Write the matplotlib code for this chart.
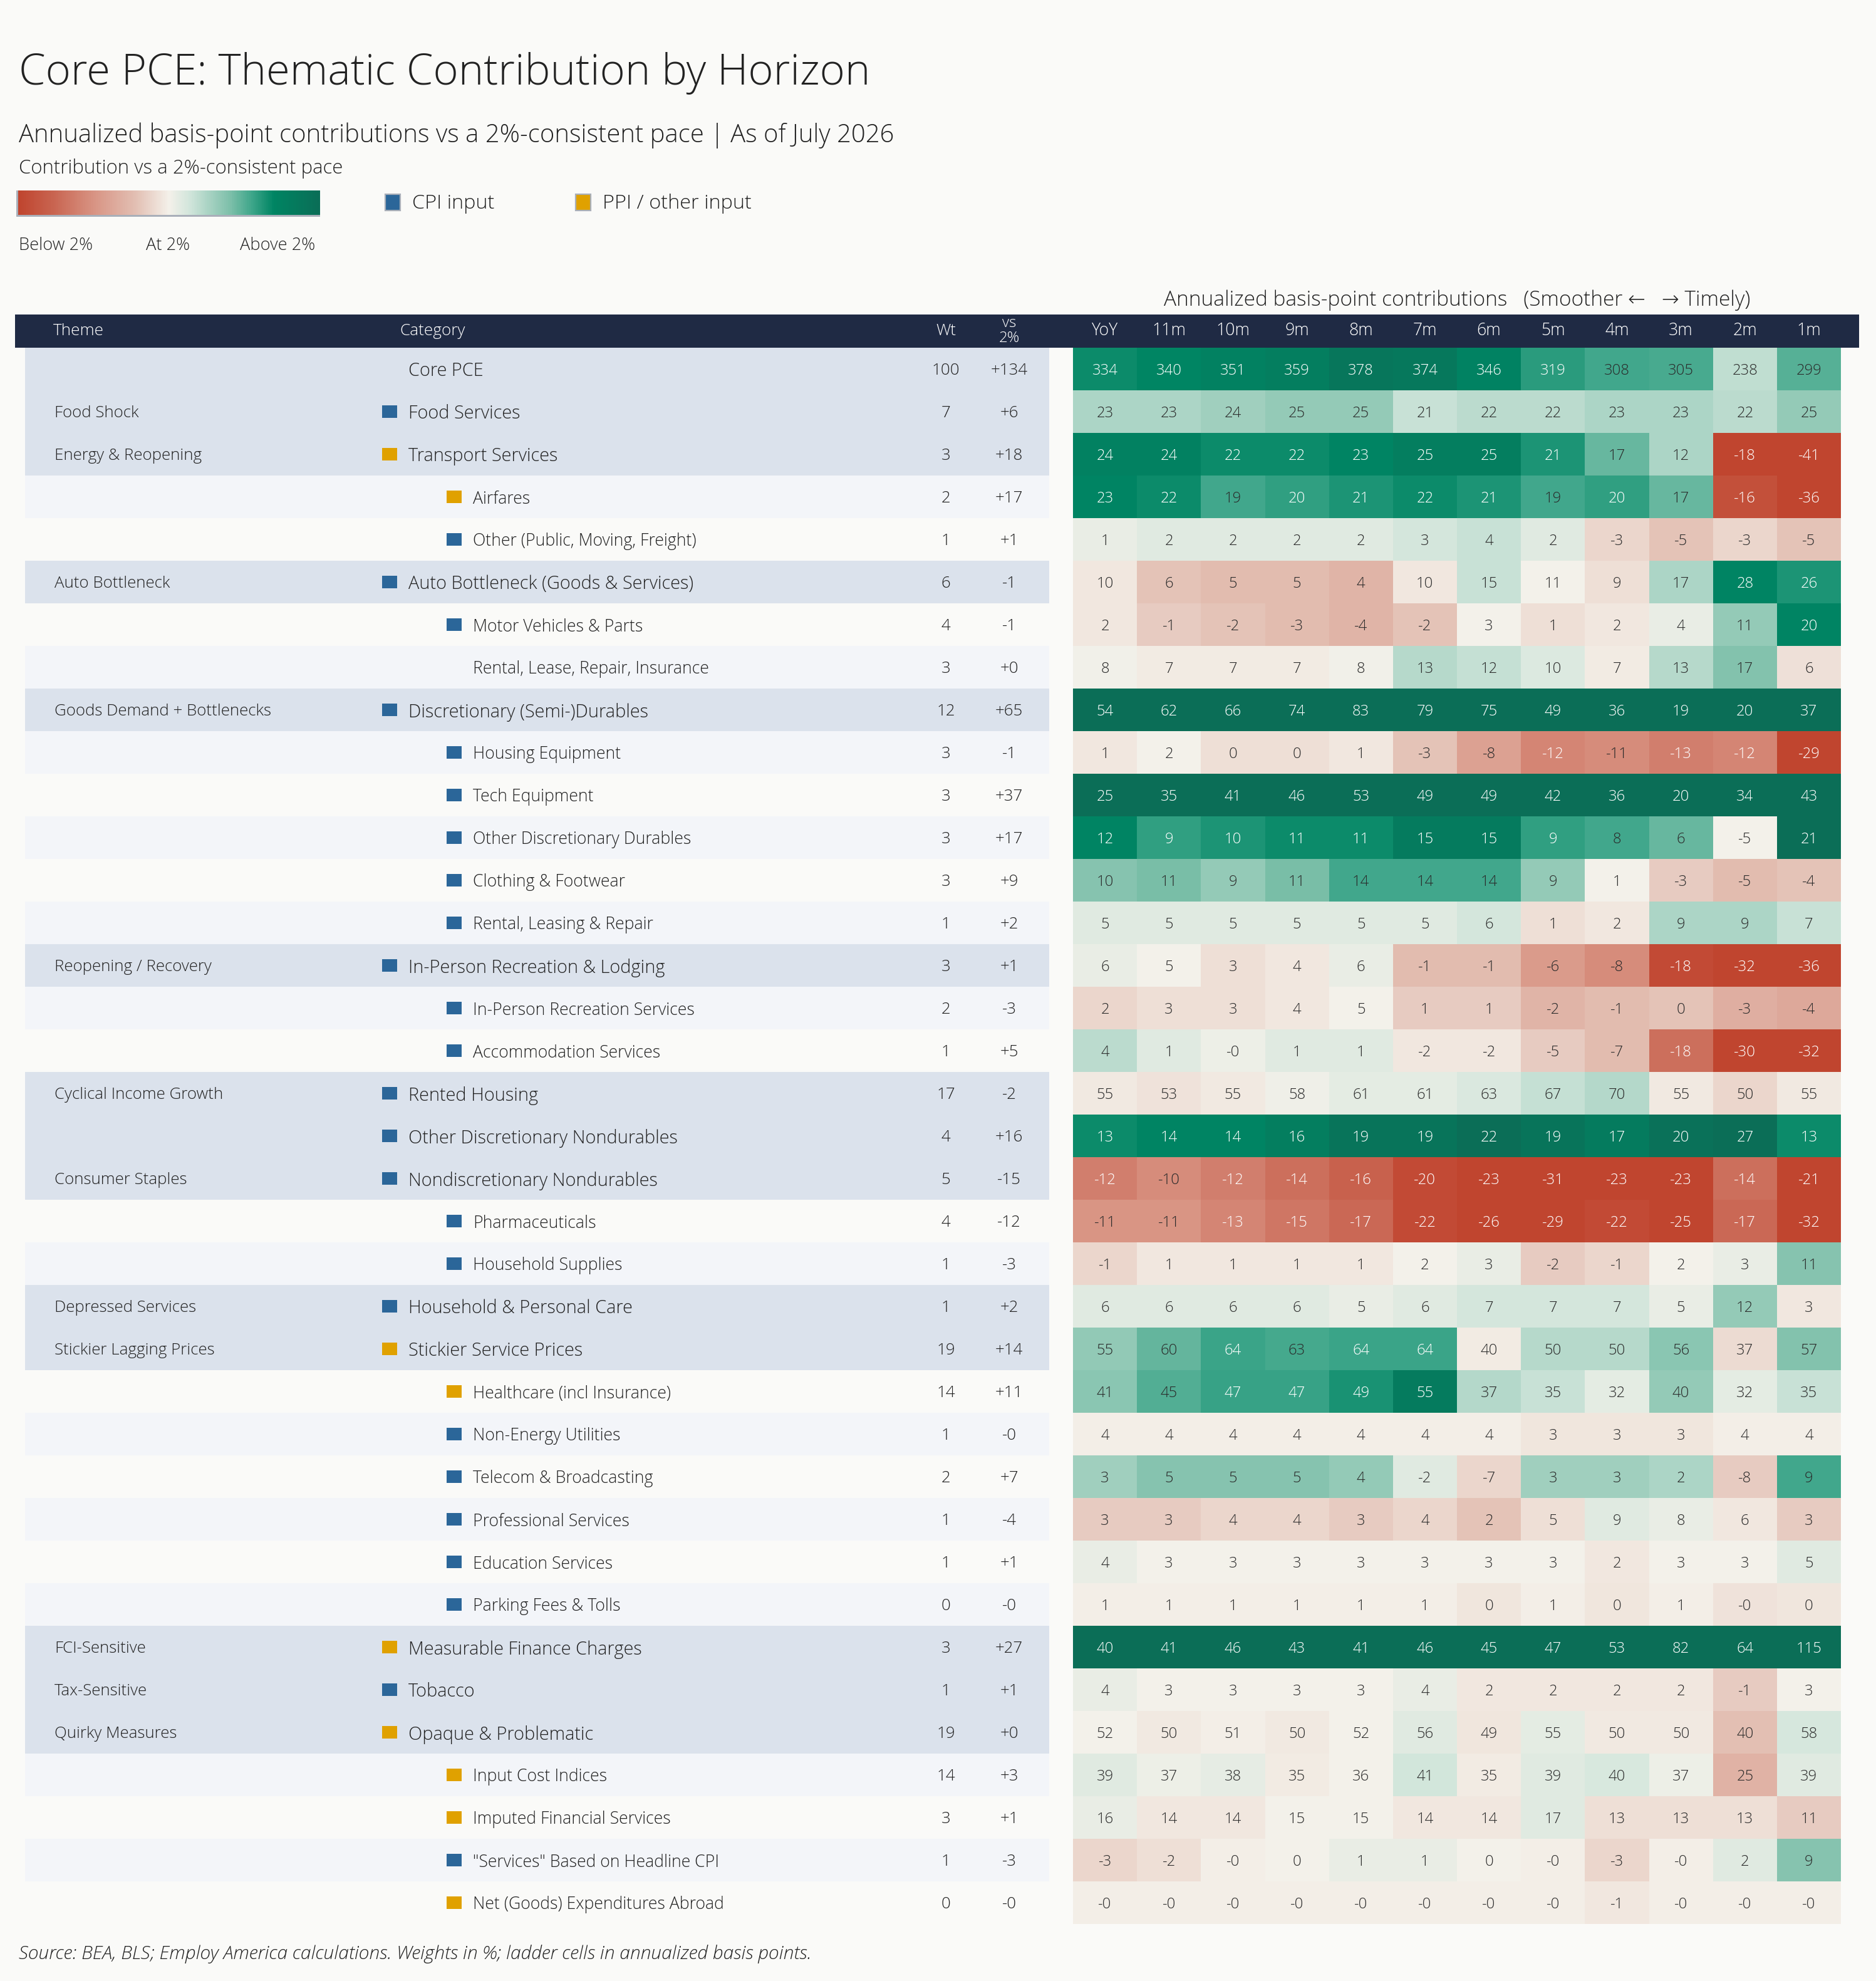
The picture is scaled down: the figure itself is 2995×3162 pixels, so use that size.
import numpy as np
import matplotlib
matplotlib.use("Agg")
import matplotlib.pyplot as plt
from matplotlib.colors import LinearSegmentedColormap
from matplotlib.patches import Rectangle

# ---------------- data ----------------
themes = ["", "Food Shock", "Energy & Reopening", "", "", "Auto Bottleneck", "", "",
          "Goods Demand + Bottlenecks", "", "", "", "", "", "Reopening / Recovery", "", "",
          "Cyclical Income Growth", "", "Consumer Staples", "", "", "Depressed Services",
          "Stickier Lagging Prices", "", "", "", "", "", "", "FCI-Sensitive", "Tax-Sensitive",
          "Quirky Measures", "", "", "", ""]

categories = ["Core PCE", "Food Services", "Transport Services", "Airfares",
              "Other (Public, Moving, Freight)", "Auto Bottleneck (Goods & Services)",
              "Motor Vehicles & Parts", "Rental, Lease, Repair, Insurance",
              "Discretionary (Semi-)Durables", "Housing Equipment", "Tech Equipment",
              "Other Discretionary Durables", "Clothing & Footwear", "Rental, Leasing & Repair",
              "In-Person Recreation & Lodging", "In-Person Recreation Services",
              "Accommodation Services", "Rented Housing", "Other Discretionary Nondurables",
              "Nondiscretionary Nondurables", "Pharmaceuticals", "Household Supplies",
              "Household & Personal Care", "Stickier Service Prices", "Healthcare (incl Insurance)",
              "Non-Energy Utilities", "Telecom & Broadcasting", "Professional Services",
              "Education Services", "Parking Fees & Tolls", "Measurable Finance Charges",
              "Tobacco", "Opaque & Problematic", "Input Cost Indices",
              "Imputed Financial Services", "\"Services\" Based on Headline CPI",
              "Net (Goods) Expenditures Abroad"]

# 0 = headline / parent row, 1 = sub-component
levels = [0, 0, 0, 1, 1, 0, 1, 1, 0, 1, 1, 1, 1, 1, 0, 1, 1, 0, 0, 0, 1, 1, 0, 0, 1, 1, 1, 1,
          1, 1, 0, 0, 0, 1, 1, 1, 1]

sources = ["", "CPI", "PPI", "PPI", "CPI", "CPI", "CPI", "", "CPI", "CPI", "CPI", "CPI", "CPI",
           "CPI", "CPI", "CPI", "CPI", "CPI", "CPI", "CPI", "CPI", "CPI", "CPI", "PPI", "PPI",
           "CPI", "CPI", "CPI", "CPI", "CPI", "PPI", "CPI", "PPI", "PPI", "PPI", "CPI", "PPI"]

weights = [100, 7, 3, 2, 1, 6, 4, 3, 12, 3, 3, 3, 3, 1, 3, 2, 1, 17, 4, 5, 4, 1, 1, 19, 14, 1,
           2, 1, 1, 0, 3, 1, 19, 14, 3, 1, 0]

vs_2pct = [134, 6, 18, 17, 1, -1, -1, 0.3, 65, -1, 37, 17, 9, 2, 1, -3, 5, -2, 16, -15, -12, -3,
           2, 14, 11, -0.3, 7, -4, 1, -0.3, 27, 1, 0.3, 3, 1, -3, -0.3]

horizons = ["YoY", "11m", "10m", "9m", "8m", "7m", "6m", "5m", "4m", "3m", "2m", "1m"]

ladder = [
    [334, 340, 351, 359, 378, 374, 346, 319, 308, 305, 238, 299],
    [23, 23, 24, 25, 25, 21, 22, 22, 23, 23, 22, 25],
    [24, 24, 22, 22, 23, 25, 25, 21, 17, 12, -18, -41],
    [23, 22, 19, 20, 21, 22, 21, 19, 20, 17, -16, -36],
    [1, 2, 2, 2, 2, 3, 4, 2, -3, -5, -3, -5],
    [10, 6, 5, 5, 4, 10, 15, 11, 9, 17, 28, 26],
    [2, -1, -2, -3, -4, -2, 3, 1, 2, 4, 11, 20],
    [8, 7, 7, 7, 8, 13, 12, 10, 7, 13, 17, 6],
    [54, 62, 66, 74, 83, 79, 75, 49, 36, 19, 20, 37],
    [1, 2, 0, 0, 1, -3, -8, -12, -11, -13, -12, -29],
    [25, 35, 41, 46, 53, 49, 49, 42, 36, 20, 34, 43],
    [12, 9, 10, 11, 11, 15, 15, 9, 8, 6, -5, 21],
    [10, 11, 9, 11, 14, 14, 14, 9, 1, -3, -5, -4],
    [5, 5, 5, 5, 5, 5, 6, 1, 2, 9, 9, 7],
    [6, 5, 3, 4, 6, -1, -1, -6, -8, -18, -32, -36],
    [2, 3, 3, 4, 5, 1, 1, -2, -1, 0, -3, -4],
    [4, 1, -0.3, 1, 1, -2, -2, -5, -7, -18, -30, -32],
    [55, 53, 55, 58, 61, 61, 63, 67, 70, 55, 50, 55],
    [13, 14, 14, 16, 19, 19, 22, 19, 17, 20, 27, 13],
    [-12, -10, -12, -14, -16, -20, -23, -31, -23, -23, -14, -21],
    [-11, -11, -13, -15, -17, -22, -26, -29, -22, -25, -17, -32],
    [-1, 1, 1, 1, 1, 2, 3, -2, -1, 2, 3, 11],
    [6, 6, 6, 6, 5, 6, 7, 7, 7, 5, 12, 3],
    [55, 60, 64, 63, 64, 64, 40, 50, 50, 56, 37, 57],
    [41, 45, 47, 47, 49, 55, 37, 35, 32, 40, 32, 35],
    [4, 4, 4, 4, 4, 4, 4, 3, 3, 3, 4, 4],
    [3, 5, 5, 5, 4, -2, -7, 3, 3, 2, -8, 9],
    [3, 3, 4, 4, 3, 4, 2, 5, 9, 8, 6, 3],
    [4, 3, 3, 3, 3, 3, 3, 3, 2, 3, 3, 5],
    [1, 1, 1, 1, 1, 1, 0, 1, 0, 1, -0.3, 0],
    [40, 41, 46, 43, 41, 46, 45, 47, 53, 82, 64, 115],
    [4, 3, 3, 3, 3, 4, 2, 2, 2, 2, -1, 3],
    [52, 50, 51, 50, 52, 56, 49, 55, 50, 50, 40, 58],
    [39, 37, 38, 35, 36, 41, 35, 39, 40, 37, 25, 39],
    [16, 14, 14, 15, 15, 14, 14, 17, 13, 13, 13, 11],
    [-3, -2, -0.3, 0, 1, 1, 0, -0.3, -3, -0.3, 2, 9],
    [-0.3, -0.3, -0.3, -0.3, -0.3, -0.3, -0.3, -0.3, -1, -0.3, -0.3, -0.3],
]

# ---------------- styling ----------------
W, H, DPI = 2995, 3162, 200
BG = "#fafaf8"
NAVY = "#1f2a44"
PARENT_BG = "#dbe2ec"
ALT_BG = "#f3f5f9"
CPI_C = "#2b6699"
PPI_C = "#e0a100"
TXT = "#222222"

plt.rcParams["font.family"] = ["Open Sans", "DejaVu Sans"]
plt.rcParams["font.weight"] = "light"

cmap = LinearSegmentedColormap.from_list("ladder", [
    (0.0, "#c0452f"), (0.116, "#c96551"), (0.255, "#d99686"), (0.39, "#e3c0b4"),
    (0.5, "#f4f1ea"), (0.567, "#d3e6dc"), (0.637, "#a6d2c2"), (0.706, "#7cbfa9"),
    (0.776, "#3ea68a"), (0.849, "#008563"), (1.0, "#0b6e57")])

vals = np.array(ladder, dtype=float)
yoy = vals[:, 0]
base = yoy - np.array(vs_2pct, dtype=float)          # 2%-consistent contribution
scale = np.maximum(np.abs(base), 24.0)
tnorm = np.clip((vals - base[:, None]) / scale[:, None], -1, 1)

fig = plt.figure(figsize=(W / DPI, H / DPI), dpi=DPI, facecolor=BG)
ax = fig.add_axes([0, 0, 1, 1])
ax.set_xlim(0, W)
ax.set_ylim(H, 0)
ax.axis("off")

# titles
ax.text(30, 135, "Core PCE: Thematic Contribution by Horizon", fontsize=24.7, color=TXT,
        va="baseline", ha="left")
ax.text(30, 227, "Annualized basis-point contributions vs a 2%-consistent pace | As of July 2026",
        fontsize=14.4, color=TXT, va="baseline", ha="left")
ax.text(30, 277, "Contribution vs a 2%-consistent pace", fontsize=11.2, color=TXT,
        va="baseline", ha="left")

# legend gradient
gx0, gx1, gy0, gy1 = 29, 511, 304, 343
ax.add_patch(Rectangle((gx0 - 3, gy0), gx1 - gx0 + 3, gy1 - gy0 + 3, facecolor="#a9afb9",
                       edgecolor="none", zorder=1))
lax = fig.add_axes([gx0 / W, 1 - gy1 / H, (gx1 - gx0) / W, (gy1 - gy0) / H])
lax.imshow(np.linspace(-1, 1, 400)[None, :], cmap=cmap, vmin=-1, vmax=1, aspect="auto")
lax.axis("off")
for xx, lab in [(30, "Below 2%"), (233, "At 2%"), (383, "Above 2%")]:
    ax.text(xx, 399, lab, fontsize=9.8, color=TXT, va="baseline", ha="left")

for sx, col, lab in [(615, CPI_C, "CPI input"), (919, PPI_C, "PPI / other input")]:
    ax.add_patch(Rectangle((sx, 310), 24, 26, facecolor=col, edgecolor="#a9afb9", lw=0.8))
    ax.text(sx + 43, 333, lab, fontsize=11.7, color=TXT, va="baseline", ha="left")

# heatmap title
HX0, HX1 = 1713, 2939
ax.text((HX0 + HX1) / 2, 488,
        "Annualized basis-point contributions   (Smoother \u2190   \u2192 Timely)",
        fontsize=12, color=TXT, va="baseline", ha="center")

# header band
TOP = 555
ROWH = 68
ax.add_patch(Rectangle((24, 502), 2968 - 24, TOP - 502, facecolor=NAVY, edgecolor="none"))
ax.text(85, 535, "Theme", color="white", fontsize=9.4, va="baseline")
ax.text(638, 535, "Category", color="white", fontsize=9.4, va="baseline")
ax.text(1510, 535, "Wt", color="white", fontsize=9.4, va="baseline", ha="center")
ax.text(1611, 522, "vs", color="white", fontsize=8.7, va="baseline", ha="center")
ax.text(1611, 546, "2%", color="white", fontsize=8.7, va="baseline", ha="center")
colw = (HX1 - HX0) / len(horizons)
for j, hname in enumerate(horizons):
    ax.text(HX0 + (j + 0.5) * colw, 535, hname, color="white", fontsize=9.6,
            va="baseline", ha="center")

# left table rows
n = len(categories)
for i in range(n):
    y0 = TOP + i * ROWH
    yc = y0 + ROWH / 2
    if levels[i] == 0:
        bg = PARENT_BG
    else:
        bg = ALT_BG if i % 2 == 1 else BG
    ax.add_patch(Rectangle((40, y0), 1675 - 40, ROWH, facecolor=bg, edgecolor="none", zorder=0))
    if themes[i]:
        ax.text(87, yc, themes[i], fontsize=9.3, color=TXT, va="center_baseline", ha="left")
    mx = 610 if levels[i] == 0 else 713
    tx = 652 if levels[i] == 0 else 755
    fs = 10.4 if levels[i] == 0 else 9.6
    if sources[i]:
        ax.add_patch(Rectangle((mx, yc - 10), 24, 20,
                               facecolor=CPI_C if sources[i] == "CPI" else PPI_C,
                               edgecolor="none"))
    ax.text(tx, yc, categories[i], fontsize=fs, color=TXT, va="center_baseline", ha="left")
    ax.text(1510, yc, f"{weights[i]:.0f}", fontsize=9.3, color=TXT, va="center_baseline",
            ha="center")
    ax.text(1611, yc, f"{vs_2pct[i]:+.0f}", fontsize=9.3, color=TXT, va="center_baseline",
            ha="center")

# heatmap
BOT = TOP + n * ROWH
hax = fig.add_axes([HX0 / W, 1 - BOT / H, (HX1 - HX0) / W, (BOT - TOP) / H])
hax.pcolormesh(np.arange(len(horizons) + 1), np.arange(n + 1), tnorm, cmap=cmap,
               vmin=-1, vmax=1, shading="flat")
hax.set_xlim(0, len(horizons))
hax.set_ylim(n, 0)
hax.axis("off")
for i in range(n):
    for j in range(len(horizons)):
        t = tnorm[i, j]
        c = "white" if abs(t) > 0.545 else "#2a2a2a"
        hax.text(j + 0.5, i + 0.5, f"{vals[i, j]:.0f}", fontsize=8.6, color=c,
                 ha="center", va="center_baseline")

ax.text(30, 3127,
        "Source: BEA, BLS; Employ America calculations. Weights in %; ladder cells in annualized basis points.",
        fontsize=10.8, style="italic", color=TXT, va="baseline", ha="left")

fig.savefig("out.png", dpi=DPI, facecolor=BG)
